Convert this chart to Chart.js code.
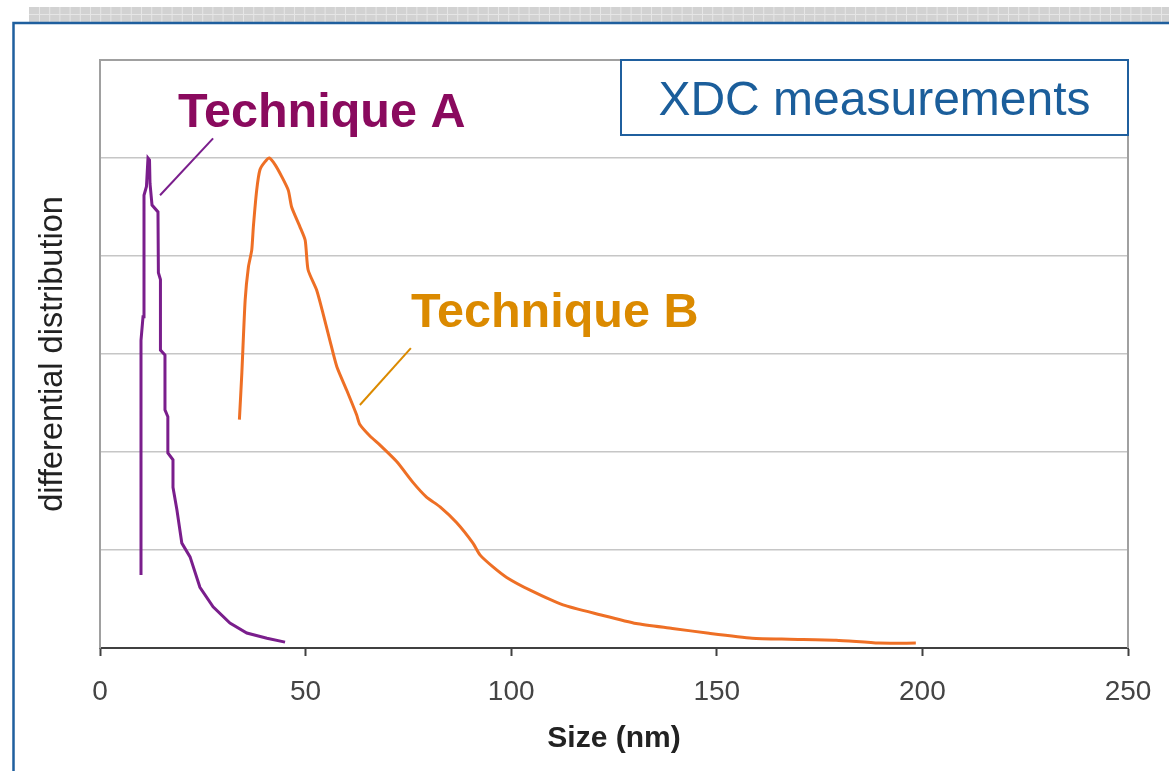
<!DOCTYPE html>
<html>
<head>
<meta charset="utf-8">
<script src="https://cdn.jsdelivr.net/npm/chart.js@4/dist/chart.umd.min.js"></script>
<style>
  html, body { margin: 0; padding: 0; background: #ffffff; }
  #c { display: block; }
</style>
</head>
<body>
<canvas id="c" width="1169" height="771"></canvas>
<script>
// ---- data ----
const sizeA = [9.97, 9.97, 10.46, 10.70, 11.3, 11.67, 12.04, 12.16, 12.65, 14.1, 14.2, 14.7, 14.7, 15.8, 15.8, 16.5, 16.5, 17.75, 17.75, 18.7, 19.9, 21.9, 24.3, 27.5, 31.6, 35.7, 40.6, 45.0];
const distA = [0.745, 3.14, 3.38, 4.62, 4.71, 5.0, 4.98, 4.74, 4.52, 4.45, 3.83, 3.76, 3.04, 2.99, 2.43, 2.36, 1.99, 1.92, 1.64, 1.41, 1.07, 0.93, 0.62, 0.42, 0.255, 0.153, 0.10, 0.06];

const sizeB = [33.9, 34.5, 35.3, 36.1, 36.9, 37.3, 38.1, 38.9, 40.1, 41.2, 42.6, 44.2, 45.8, 46.6, 48.6, 49.9, 50.6, 52.7, 54.2, 55.9, 57.6, 60.0, 62.4, 63.2, 65.7, 68.1, 72.2, 76.1, 79.4, 82.7, 86.7, 90.7, 92.4, 95.5, 98.9, 104.6, 112.6, 121.6, 130.4, 139.2, 148.1, 158.6, 167.6, 179.0, 189.4, 198.4];
const distB = [2.33, 2.81, 3.55, 3.89, 4.06, 4.30, 4.67, 4.88, 4.96, 5.0, 4.93, 4.81, 4.67, 4.50, 4.30, 4.16, 3.86, 3.65, 3.42, 3.14, 2.87, 2.63, 2.38, 2.28, 2.16, 2.07, 1.90, 1.69, 1.54, 1.44, 1.28, 1.07, 0.95, 0.83, 0.72, 0.59, 0.44, 0.34, 0.25, 0.20, 0.15, 0.10, 0.09, 0.08, 0.05, 0.05];

// leader lines from the labels to the curves
const leaderA_x = [14.6, 27.5];
const leaderA_y = [4.62, 5.2];
const leaderB_x = [63.2, 75.6];
const leaderB_y = [2.48, 3.06];

const xTicks = [0, 50, 100, 150, 200, 250];
const labelA = 'Technique A';
const labelB = 'Technique B';
const boxTitle = 'XDC measurements';
const xTitle = 'Size (nm)';
const yTitle = 'differential distribution';

const pts = (xs, ys) => xs.map((x, i) => ({x: x, y: ys[i]}));

const FONT = '"Liberation Sans", Arial, Helvetica, sans-serif';

const deco = {
  id: 'deco',
  beforeDraw(chart) {
    const ctx = chart.ctx;
    ctx.save();
    ctx.fillStyle = '#ffffff';
    ctx.fillRect(0, 0, chart.width, chart.height);
    // grey checkered strip at top
    ctx.fillStyle = '#d2d2d2';
    ctx.fillRect(29, 7, chart.width - 29, 15);
    ctx.strokeStyle = '#e6e6e6';
    ctx.lineWidth = 1;
    ctx.beginPath();
    for (let x = 39.5; x < chart.width; x += 10.2) {
      ctx.moveTo(x, 7); ctx.lineTo(x, 22);
    }
    ctx.moveTo(29, 14.5); ctx.lineTo(chart.width, 14.5);
    ctx.stroke();
    // blue frame
    ctx.strokeStyle = '#1f5f9e';
    ctx.lineWidth = 2.5;
    ctx.beginPath();
    ctx.moveTo(13.5, chart.height + 2);
    ctx.lineTo(13.5, 23);
    ctx.lineTo(chart.width + 2, 23);
    ctx.stroke();
    ctx.restore();
  },
  afterDatasetsDraw(chart) {
    const ctx = chart.ctx;
    const a = chart.chartArea;
    ctx.save();
    // right and top border of plot area
    ctx.strokeStyle = '#a0a0a0';
    ctx.lineWidth = 2;
    ctx.beginPath();
    ctx.moveTo(a.left, a.top);
    ctx.lineTo(a.right, a.top);
    ctx.lineTo(a.right, a.bottom);
    ctx.stroke();
    // title box
    const bx = 621, by = 60, bw = a.right - 621, bh = 75;
    ctx.fillStyle = '#ffffff';
    ctx.fillRect(bx, by, bw, bh);
    ctx.strokeStyle = '#1f5f9e';
    ctx.lineWidth = 2;
    ctx.strokeRect(bx, by, bw, bh);
    ctx.fillStyle = '#1b5e9b';
    ctx.font = '48px ' + FONT;
    ctx.textAlign = 'center';
    ctx.textBaseline = 'alphabetic';
    ctx.fillText(boxTitle, 874.5, 115);
    // technique labels
    ctx.textAlign = 'left';
    ctx.font = 'bold 48.5px ' + FONT;
    ctx.fillStyle = '#8a0a5e';
    ctx.fillText(labelA, 178, 127);
    ctx.fillStyle = '#db8a00';
    ctx.fillText(labelB, 411, 327);
    ctx.restore();
  }
};

new Chart(document.getElementById('c'), {
  type: 'scatter',
  data: {
    datasets: [
      { label: labelA, data: pts(sizeA, distA), showLine: true, borderColor: '#7a1e8c', borderWidth: 3, pointRadius: 0, tension: 0 },
      { label: labelB, data: pts(sizeB, distB), showLine: true, borderColor: '#ee6f25', borderWidth: 3, pointRadius: 0, tension: 0.2 },
      { label: 'leaderA', data: pts(leaderA_x, leaderA_y), showLine: true, borderColor: '#7a1e8c', borderWidth: 2, pointRadius: 0 },
      { label: 'leaderB', data: pts(leaderB_x, leaderB_y), showLine: true, borderColor: '#db8a00', borderWidth: 2, pointRadius: 0 }
    ]
  },
  options: {
    responsive: false,
    animation: false,
    devicePixelRatio: 1,
    layout: { padding: { top: 60, right: 41, left: 0, bottom: 0 } },
    plugins: { legend: { display: false }, tooltip: { enabled: false }, title: { display: false } },
    scales: {
      x: {
        type: 'linear',
        min: 0, max: 250,
        afterBuildTicks(scale) { scale.ticks = xTicks.map(v => ({value: v})); },
        afterFit(scale) { scale.height = 123; scale.paddingLeft = 0; scale.paddingRight = 0; },
        ticks: { autoSkip: false, maxRotation: 0, color: '#444444', padding: 19, font: { family: FONT, size: 28 } },
        grid: { drawOnChartArea: false, drawTicks: true, tickLength: 8, tickColor: '#404040', tickWidth: 2 },
        border: { display: true, color: '#404040', width: 2 },
        title: { display: true, text: xTitle, color: '#222222', padding: { top: 0, bottom: 14 }, font: { family: FONT, size: 30, weight: 'bold' } }
      },
      y: {
        type: 'linear',
        min: 0, max: 6,
        afterFit(scale) { scale.width = 100; },
        ticks: { display: false, stepSize: 1 },
        grid: { color: '#c6c6c6', lineWidth: 1.5, drawTicks: false },
        border: { display: true, color: '#a0a0a0', width: 2 },
        title: { display: true, text: yTitle, color: '#222222', padding: { top: 34, bottom: 0 }, font: { family: FONT, size: 32.5 } }
      }
    }
  },
  plugins: [deco]
});
</script>
</body>
</html>
